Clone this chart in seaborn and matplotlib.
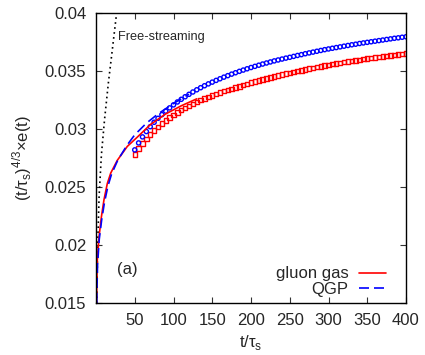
import numpy as np
import pandas as pd
import seaborn as sns
import matplotlib.pyplot as plt

# free-streaming reference curve (dotted)
fs_t = [0.9, 2.0, 4.0, 7.0, 11.0, 16.0, 21.0, 26.6]
fs_y = [0.0150, 0.0195, 0.0242, 0.0278, 0.0308, 0.0340, 0.0368, 0.0400]

# early-time curves
gluon_line_t = [0.7, 1.0, 1.7, 3.9, 6.9, 10.3, 14.6, 19, 27.5, 40.4, 53.3, 70.5, 90, 110, 130]
gluon_line_y = [0.0150, 0.0166, 0.0187, 0.0207, 0.0224, 0.0239, 0.0253, 0.0262, 0.0273,
                0.0285, 0.0293, 0.0304, 0.0313, 0.0320, 0.0326]
qgp_line_t = [1.0, 1.3, 2.0, 4.2, 7.4, 11, 15.5, 20, 28, 40, 50, 65, 80, 100, 120]
qgp_line_y = [0.0150, 0.0164, 0.0183, 0.0205, 0.0222, 0.0237, 0.0251, 0.0261, 0.0273,
              0.0286, 0.0295, 0.0305, 0.0313, 0.0322, 0.0330]

# late-time points, t = 50, 55, ..., 400
pts_t = list(range(50, 401, 5))
gluon_pts = [0.02780, 0.02832, 0.02876, 0.02916, 0.02953, 0.02987,
             0.03018, 0.03047, 0.03074, 0.03099, 0.03122,
             0.03143, 0.03163, 0.03182, 0.03200, 0.03217, 0.03233, 0.03248, 0.03262, 0.03276, 0.03289,
             0.03301, 0.03313, 0.03325, 0.03336, 0.03347, 0.03357, 0.03367, 0.03377, 0.03388, 0.03400,
             0.03409, 0.03418, 0.03427, 0.03436, 0.03444, 0.03453, 0.03461, 0.03469, 0.03477, 0.03485,
             0.03492, 0.03499, 0.03506, 0.03513, 0.03520, 0.03527, 0.03533, 0.03540, 0.03546, 0.03552,
             0.03558, 0.03564, 0.03570, 0.03575, 0.03581, 0.03586, 0.03591, 0.03597, 0.03602, 0.03607,
             0.03612, 0.03616, 0.03621, 0.03625, 0.03630, 0.03634, 0.03638, 0.03643, 0.03647, 0.03651]
qgp_pts = [0.02820, 0.02880, 0.02932, 0.02978, 0.03020, 0.03058,
           0.03092, 0.03124, 0.03154, 0.03182, 0.03208,
           0.03233, 0.03256, 0.03278, 0.03299, 0.03319, 0.03338, 0.03356, 0.03373, 0.03389, 0.03404,
           0.03419, 0.03433, 0.03447, 0.03460, 0.03473, 0.03485, 0.03497, 0.03508, 0.03519, 0.03530,
           0.03540, 0.03550, 0.03560, 0.03569, 0.03578, 0.03587, 0.03595, 0.03603, 0.03611, 0.03618,
           0.03626, 0.03634, 0.03641, 0.03649, 0.03656, 0.03663, 0.03670, 0.03677, 0.03684, 0.03690,
           0.03696, 0.03702, 0.03708, 0.03714, 0.03720, 0.03726, 0.03731, 0.03737, 0.03742, 0.03747,
           0.03752, 0.03757, 0.03762, 0.03767, 0.03772, 0.03777, 0.03782, 0.03786, 0.03791, 0.03795]

x_ticks = [50, 100, 150, 200, 250, 300, 350, 400]
y_ticks = [0.015, 0.02, 0.025, 0.03, 0.035, 0.04]
y_tick_labels = ['0.015', '0.02', '0.025', '0.03', '0.035', '0.04']

sns.set_theme(style='ticks')
plt.rcParams['font.family'] = ['Liberation Sans', 'DejaVu Sans']
plt.rcParams['mathtext.fontset'] = 'custom'
plt.rcParams['mathtext.rm'] = 'Liberation Sans'

fig = plt.figure(figsize=(4.25, 3.55), dpi=100)
ax = fig.add_axes([96 / 425, 1 - 303 / 355, 310 / 425, 290 / 355])

sns.lineplot(x=fs_t, y=fs_y, color='black', linestyle=(0, (1, 2)), linewidth=1.2, ax=ax)
sns.scatterplot(x=pts_t, y=gluon_pts, marker='s', s=10, facecolor='none',
                edgecolor='red', linewidth=1.0, ax=ax, legend=False)
sns.scatterplot(x=pts_t, y=qgp_pts, marker='o', s=9, facecolor='none',
                edgecolor='blue', linewidth=1.0, ax=ax, legend=False)
sns.lineplot(x=gluon_line_t, y=gluon_line_y, color='red', linewidth=1.2,
             label='gluon gas', ax=ax, sort=False)
sns.lineplot(x=qgp_line_t, y=qgp_line_y, color='blue', linewidth=1.2,
             linestyle=(0, (6, 3)), label='QGP', ax=ax, sort=False)

ax.set_xlim(0, 400)
ax.set_ylim(0.015, 0.04)
ax.set_xticks(x_ticks)
ax.set_yticks(y_ticks)
ax.set_yticklabels(y_tick_labels)
ax.tick_params(direction='in', top=True, right=True, length=4, width=0.8,
               labelsize=12, pad=7, color='#333333')
for sp in ax.spines.values():
    sp.set_linewidth(1.0)
    sp.set_color('black')

ax.set_xlabel(r't/τ$_\mathregular{s}$', fontsize=12, labelpad=4)
ax.set_ylabel(r'(t/τ$_\mathregular{s}$)$^\mathregular{4/3}$×e(t)', fontsize=12, labelpad=8)

ax.text(28.4, 0.0379, 'Free-streaming', fontsize=9.2, va='center', ha='left')
ax.text(41, 0.01785, '(a)', fontsize=12, va='center', ha='center')

ax.legend(loc='lower right', bbox_to_anchor=(0.935, 0.02), frameon=False,
          markerfirst=False, fontsize=12, handlelength=1.6, handletextpad=0.65,
          labelspacing=0.05, borderpad=0, borderaxespad=0)

fig.savefig('out.png', dpi=100)
